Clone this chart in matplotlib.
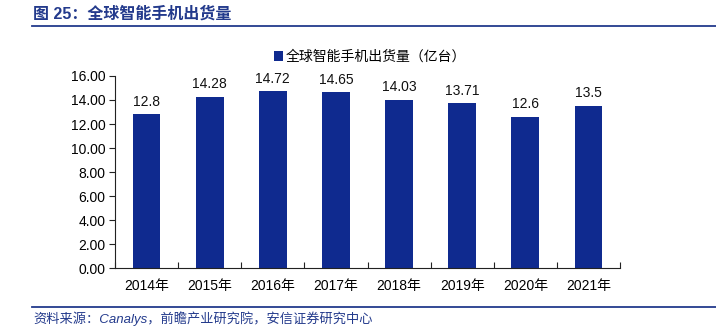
import numpy as np
import matplotlib.pyplot as plt
from matplotlib.lines import Line2D

# --------------- data ---------------
years = ['2014年', '2015年', '2016年', '2017年', '2018年', '2019年', '2020年', '2021年']
shipments = [12.8, 14.28, 14.72, 14.65, 14.03, 13.71, 12.6, 13.5]
value_labels = ['12.8', '14.28', '14.72', '14.65', '14.03', '13.71', '12.6', '13.5']
series_name = '全球智能手机出货量（亿台）'
title = '图 25：全球智能手机出货量'
source = '资料来源：Canalys，前瞻产业研究院，安信证券研究中心'

bar_color = '#0F2A8F'
head_color = '#233A8C'
fonts = ['Liberation Sans', 'Noto Sans CJK SC', 'DejaVu Sans']
plt.rcParams['font.family'] = fonts

fig = plt.figure(figsize=(7.16, 3.29), dpi=100)
ax = fig.add_axes([0.1606, 0.1854, 0.7054, 0.5836])

x = np.arange(len(years))
bars = ax.bar(x, shipments, width=0.44, color=bar_color, label=series_name)
ax.bar_label(bars, labels=value_labels, padding=4, fontsize=10, color='#111111')

ax.set_xlim(-0.5, len(years) - 0.5)
ax.set_ylim(0, 16)
ax.set_yticks(np.arange(0, 17, 2))
ax.set_yticklabels([f'{v:.2f}' for v in np.arange(0, 17, 2)], fontsize=10)
ax.set_xticks(x)
ax.set_xticklabels(years, fontsize=10)
ax.tick_params(axis='x', which='major', length=0, pad=8)
ax.set_xticks(np.arange(-0.5, len(years)), minor=True)
ax.tick_params(axis='x', which='minor', direction='in', length=4, width=0.8, color='#222222')
ax.tick_params(axis='y', direction='out', length=4, width=0.8, color='#222222', pad=3)

for side in ['top', 'right']:
    ax.spines[side].set_visible(False)
for side in ['left', 'bottom']:
    ax.spines[side].set_color('#222222')
    ax.spines[side].set_linewidth(0.8)

ax.legend(loc='center', bbox_to_anchor=(0.505, 1.10), frameon=False,
          fontsize=10, handlelength=0.7, handleheight=0.7, handletextpad=0.2,
          borderpad=0, borderaxespad=0)

# header and footer
fig.text(0.046, 0.957, title, fontsize=11.5, fontweight='bold', color=head_color,
         va='center', ha='left')
fig.add_artist(Line2D([0.045, 1.0], [0.921, 0.921], color=head_color, lw=1.3))
fig.add_artist(Line2D([0.045, 1.0], [0.067, 0.067], color=head_color, lw=1.3))
fig.text(0.046, 0.030, source, fontsize=9.5, style='italic', color=head_color,
         va='center', ha='left')

fig.savefig('out.png', dpi=100)
